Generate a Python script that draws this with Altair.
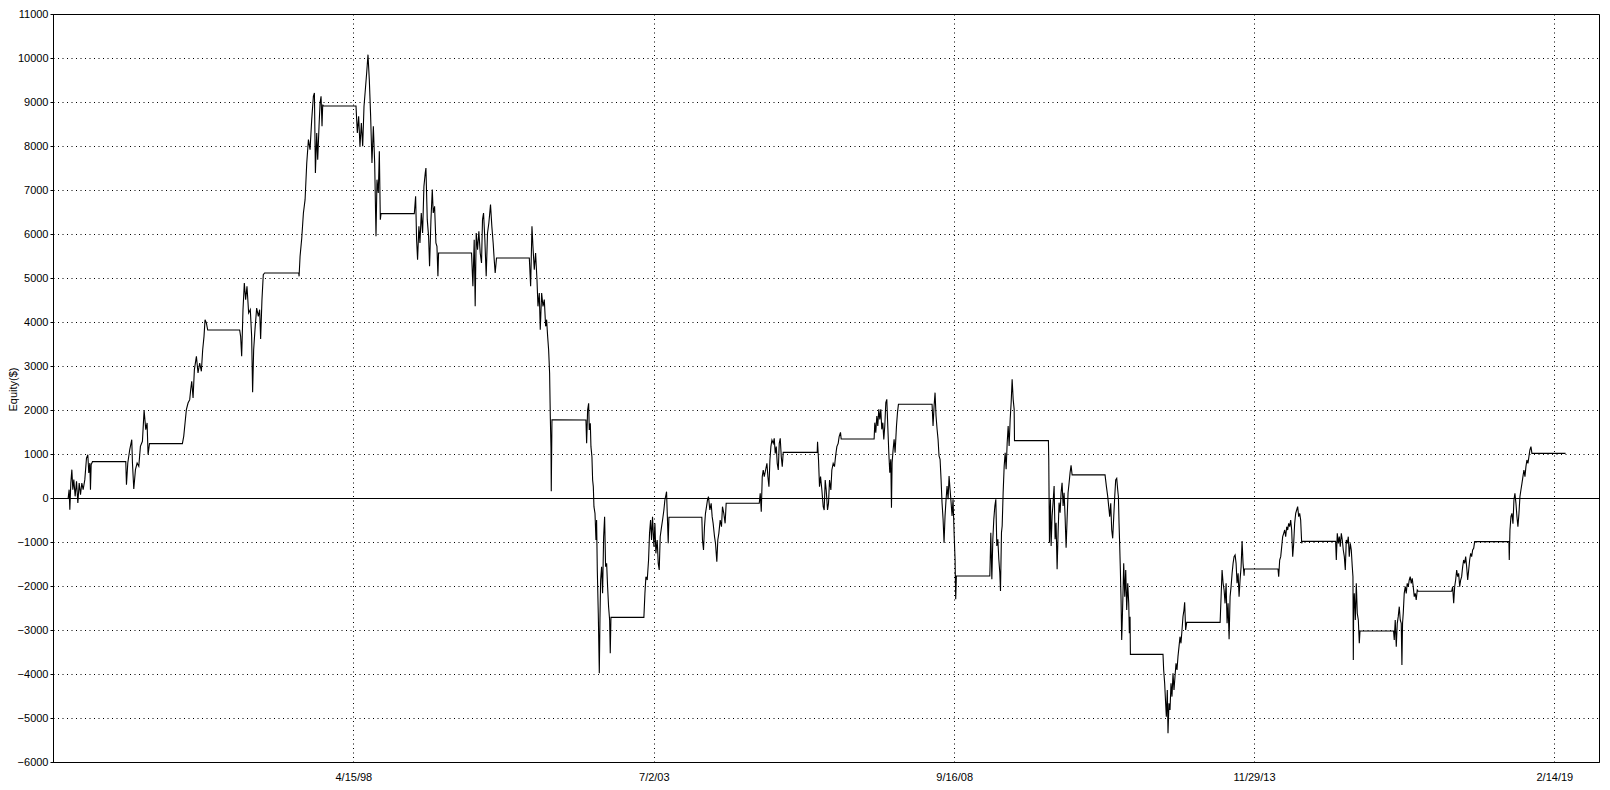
import altair as alt
import pandas as pd

# ---- data (decimal year, equity $) ----
t_1993_1996 = [1993.337, 1993.354, 1993.366, 1993.383, 1993.401, 1993.418, 1993.435, 1993.458, 1993.482, 1993.505,
               1993.528, 1993.551, 1993.574, 1993.597, 1993.626, 1993.655, 1993.678, 1993.695, 1993.713, 1993.724,
               1993.736, 1993.759,
               1994.337, 1994.349, 1994.372, 1994.406, 1994.441, 1994.453, 1994.476, 1994.505, 1994.534, 1994.563,
               1994.591, 1994.626, 1994.655, 1994.684, 1994.707, 1994.724, 1994.748,
               1995.320, 1995.343, 1995.366, 1995.389, 1995.418, 1995.447, 1995.464, 1995.482, 1995.505, 1995.528,
               1995.563, 1995.591, 1995.620, 1995.649, 1995.672, 1995.695, 1995.713, 1995.736, 1995.759,
               1996.314, 1996.331, 1996.349, 1996.372, 1996.395, 1996.418, 1996.441, 1996.470, 1996.499, 1996.522,
               1996.539, 1996.557, 1996.580, 1996.609, 1996.638, 1996.661, 1996.678, 1996.701, 1996.724, 1996.747]
eq_1993_1996 = [0, 189, -265, 341, 644, 189, 417, 38, 379, -114,
                341, 76, 341, 189, 417, 909, 985, 568, 795, 189,
                758, 826,
                826, 303, 795, 1098, 1326, 795, 205, 644, 795, 720,
                1174, 1288, 1992, 1553, 1705, 985, 1235,
                1235, 1402, 1705, 2008, 2159, 2235, 2462, 2652, 2273, 2917,
                3220, 2841, 3068, 2879, 3371, 3674, 4053, 3977, 3818,
                3818, 3674, 3220, 4280, 4886, 4508, 4811, 4205, 4280, 3674,
                2402, 3371, 3826, 4318, 4129, 4280, 3614, 4508, 5076, 5114]

t_1997_2001 = [1997.337, 1997.343, 1997.360, 1997.389, 1997.418, 1997.447, 1997.476, 1997.505, 1997.533, 1997.562,
               1997.591, 1997.609, 1997.626, 1997.649, 1997.666, 1997.689, 1997.707, 1997.724, 1997.741, 1997.753,
               1997.765,
               1998.331, 1998.354, 1998.377, 1998.400, 1998.424, 1998.447, 1998.470, 1998.493, 1998.516, 1998.539,
               1998.562, 1998.585, 1998.608, 1998.632, 1998.655, 1998.678, 1998.695, 1998.718, 1998.736, 1998.753,
               1998.765,
               1999.343, 1999.366, 1999.383, 1999.400, 1999.423, 1999.441, 1999.464, 1999.487, 1999.510, 1999.533,
               1999.545, 1999.568, 1999.591, 1999.608, 1999.632, 1999.655, 1999.672, 1999.695, 1999.718, 1999.736,
               1999.753, 1999.764,
               2000.337, 2000.360, 2000.383, 2000.400, 2000.418, 2000.441, 2000.464, 2000.487, 2000.510, 2000.527,
               2000.545, 2000.568, 2000.591, 2000.614, 2000.637, 2000.666, 2000.689, 2000.712, 2000.730, 2000.747,
               2000.770,
               2001.337, 2001.360, 2001.383, 2001.400, 2001.423, 2001.446, 2001.470, 2001.487, 2001.510, 2001.527,
               2001.551, 2001.574, 2001.597, 2001.620, 2001.637, 2001.655, 2001.672, 2001.689, 2001.701, 2001.713,
               2001.718, 2001.730, 2001.736]
eq_1997_2001 = [5114, 5038, 5492, 5902, 6477, 6780, 7614, 8144, 7917, 8599,
                9129, 9205, 7386, 8296, 7690, 8447, 8977, 9129, 8447, 8940,
                8909,
                8909, 8296, 8674, 7993, 8523, 7993, 8902, 9280, 9659, 10076,
                9508, 8674, 7614, 8447, 7614, 5947, 7235, 6932, 7879, 6326,
                6462,
                6462, 6856, 5871, 5417, 6174, 5796, 6477, 6023, 7083, 7386,
                7500, 6326, 5947, 5265, 6326, 7008, 6477, 6629, 5796, 5720,
                5038, 5568,
                5568, 4811, 5871, 4356, 6023, 5644, 6061, 5568, 5341, 6326,
                6477, 5871, 5038, 6023, 6250, 6667, 6174, 5796, 5417, 5114,
                5455,
                5455, 4811, 6174, 5720, 5189, 5568, 4962, 4356, 4659, 3826,
                4659, 4356, 4508, 3902, 4053, 3674, 3371, 2841, 1856, 1136,
                152, 1780, 1780]

t_2002_2006 = [2002.320, 2002.332, 2002.349, 2002.367, 2002.378, 2002.396, 2002.407, 2002.424, 2002.436, 2002.448,
               2002.459, 2002.477, 2002.494, 2002.505, 2002.517, 2002.534, 2002.552, 2002.563, 2002.575, 2002.592,
               2002.609, 2002.627, 2002.644, 2002.661, 2002.679, 2002.696, 2002.713, 2002.731, 2002.742, 2002.754,
               2003.326, 2003.344, 2003.361, 2003.384, 2003.407, 2003.424, 2003.442, 2003.459, 2003.476, 2003.500,
               2003.517, 2003.534, 2003.557, 2003.575, 2003.592, 2003.609, 2003.633, 2003.650, 2003.673, 2003.690,
               2003.708, 2003.719, 2003.737, 2003.748, 2003.760,
               2004.332, 2004.343, 2004.361, 2004.378, 2004.395, 2004.413, 2004.430, 2004.447, 2004.471, 2004.494,
               2004.511, 2004.528, 2004.552, 2004.569, 2004.592, 2004.609, 2004.627, 2004.650, 2004.673, 2004.690,
               2004.713, 2004.736, 2004.754,
               2005.326, 2005.343, 2005.361, 2005.378, 2005.395, 2005.413, 2005.436, 2005.459, 2005.476, 2005.494,
               2005.511, 2005.528, 2005.546, 2005.569, 2005.586, 2005.603, 2005.621, 2005.638, 2005.656, 2005.673,
               2005.690, 2005.708, 2005.725, 2005.742,
               2006.332, 2006.338, 2006.355, 2006.372, 2006.390, 2006.413, 2006.436, 2006.453, 2006.471, 2006.488,
               2006.511, 2006.528, 2006.546, 2006.569, 2006.586, 2006.609, 2006.632, 2006.650, 2006.673, 2006.696,
               2006.713, 2006.736, 2006.748]
eq_2002_2006 = [1773, 1242, 2000, 2152, 1545, 1697, 1167, 939, 409, 258,
                -197, -348, -955, -500, -1636, -2621, -3985, -2773, -1864, -1561,
                -2167, -879, -424, -1561, -1485, -2015, -2470, -2773, -3530, -2712,
                -2712, -2167, -1788, -1864, -1409, -803, -500, -955, -424, -1106,
                -576, -1258, -955, -1485, -1636, -879, -652, -500, -273, -45,
                68, 144, -576, -1030, -439,
                -439, -955, -1182, -652, -348, -197, -45, 30, -273, -121,
                -424, -576, -879, -1030, -1447, -955, -803, -500, -652, -197,
                -348, -576, -121,
                -121, 106, -311, 485, 636, 485, 636, 788, 485, 258,
                864, 1167, 1318, 1242, 1356, 1015, 1167, 788, 636, 1242,
                1356, 939, 712, 1038,
                1038, 1280, 864, 258, 485, 182, -197, -273, 409, 182,
                -273, -121, 409, 182, 636, 788, 712, 939, 1167, 1242,
                1394, 1492, 1340]

t_2007_2010 = [2007.320, 2007.332, 2007.349, 2007.367, 2007.384, 2007.401, 2007.419, 2007.436, 2007.453, 2007.471,
               2007.488, 2007.505, 2007.523, 2007.540, 2007.557, 2007.575, 2007.592, 2007.609, 2007.621, 2007.632,
               2007.650, 2007.667, 2007.684, 2007.708, 2007.725, 2007.742,
               2008.326, 2008.343, 2008.361, 2008.378, 2008.395, 2008.413, 2008.430, 2008.447, 2008.465, 2008.482,
               2008.499, 2008.517, 2008.534, 2008.551, 2008.569, 2008.586, 2008.604, 2008.621, 2008.638, 2008.656,
               2008.673, 2008.690, 2008.708, 2008.725, 2008.736, 2008.748,
               2009.326, 2009.343, 2009.361, 2009.378, 2009.395, 2009.413, 2009.430, 2009.447, 2009.465, 2009.482,
               2009.499, 2009.511, 2009.528, 2009.540, 2009.557, 2009.575, 2009.592, 2009.609, 2009.627, 2009.644,
               2009.661, 2009.679, 2009.696, 2009.713, 2009.731, 2009.748, 2009.754,
               2010.343, 2010.349, 2010.361, 2010.378, 2010.390, 2010.407, 2010.424, 2010.442, 2010.459, 2010.476,
               2010.494, 2010.511, 2010.528, 2010.546, 2010.563, 2010.580, 2010.598, 2010.615, 2010.632, 2010.650,
               2010.667, 2010.684, 2010.702, 2010.719, 2010.736, 2010.754]
eq_2007_2010 = [1340, 1712, 1485, 1864, 1636, 2015, 1788, 2015, 1561, 1712,
                1333, 1636, 2167, 2242, 1636, 1030, 576, 879, -220, 803,
                1106, 1333, 1030, 1636, 1939, 2129,
                2129, 1636, 2091, 2394, 1864, 1561, 1333, 955, 879, 424,
                -106, -485, -1015, -409, -30, 273, -30, 500, 197, -106,
                -409, -30, -788, -1394, -2303, -1773,
                -1773, -788, -1848, -939, -485, -182, -30, -1091, -939, -1394,
                -1697, -2114, -788, -636, 121, 727, 1030, 652, 1258, 1636,
                1182, 1788, 2167, 2697, 2242, 2015, 1303,
                1303, 879, -1015, -30, -1091, -409, -106, 273, -939, -561,
                -1621, -788, -106, -333, 121, 348, -182, 121, -409, -1129,
                -485, 121, 348, 576, 742, 525]

t_2011_2015 = [2011.326, 2011.350, 2011.373, 2011.390, 2011.407, 2011.425, 2011.442, 2011.459, 2011.477, 2011.494,
               2011.511, 2011.529, 2011.546, 2011.558, 2011.569, 2011.581, 2011.592, 2011.604, 2011.615, 2011.627,
               2011.639, 2011.650, 2011.668, 2011.685, 2011.702, 2011.720, 2011.737, 2011.748, 2011.760, 2011.766,
               2012.332, 2012.344, 2012.361, 2012.378, 2012.390, 2012.407, 2012.419, 2012.436, 2012.454, 2012.471,
               2012.488, 2012.506, 2012.523, 2012.540, 2012.558, 2012.575, 2012.592, 2012.610, 2012.627, 2012.644,
               2012.662, 2012.679, 2012.696, 2012.708, 2012.725, 2012.743,
               2013.321, 2013.338, 2013.355, 2013.373, 2013.390, 2013.407, 2013.425, 2013.442, 2013.459, 2013.477,
               2013.494, 2013.511, 2013.529, 2013.546, 2013.563, 2013.581, 2013.598, 2013.615, 2013.633, 2013.650,
               2013.667, 2013.685, 2013.702, 2013.719, 2013.737, 2013.743,
               2014.326, 2014.338, 2014.355, 2014.373, 2014.390, 2014.407, 2014.425, 2014.442, 2014.459, 2014.477,
               2014.494, 2014.511, 2014.529, 2014.546, 2014.563, 2014.581, 2014.598, 2014.615, 2014.633, 2014.650,
               2014.667, 2014.685, 2014.702, 2014.719, 2014.737, 2014.748,
               2015.326, 2015.338, 2015.355, 2015.373, 2015.390, 2015.407, 2015.425, 2015.442, 2015.459, 2015.477,
               2015.494, 2015.511, 2015.529, 2015.546, 2015.563, 2015.581, 2015.598, 2015.615, 2015.627, 2015.633,
               2015.639, 2015.650, 2015.668, 2015.685, 2015.702, 2015.720, 2015.737, 2015.749]
eq_2011_2015 = [525, 258, 30, -197, -424, -121, -727, -917, -424, 30,
                409, 447, 182, 30, -576, -1106, -1636, -2318, -3227, -2697,
                -2091, -1485, -2242, -1636, -2545, -1939, -2394, -3076, -2697, -3553,
                -3553, -3909, -4212, -4667, -4970, -4364, -5348, -4667, -4818, -4212,
                -4515, -3985, -4364, -4061, -3758, -3909, -3606, -3379, -3152, -3303,
                -3000, -2697, -2545, -2371, -3000, -2826,
                -2826, -2242, -1636, -1939, -2091, -2394, -1939, -2848, -2394, -3212,
                -2242, -2015, -1712, -1485, -1333, -1295, -1485, -1939, -1712, -2242,
                -1864, -1561, -977, -1485, -1765, -1614,
                -1614, -1788, -1409, -1333, -1106, -879, -803, -727, -879, -652,
                -727, -576, -652, -500, -727, -1333, -1030, -576, -348, -273,
                -197, -424, -348, -500, -1030, -985,
                -985, -1409, -803, -1030, -879, -1106, -803, -955, -1182, -1333,
                -1636, -955, -1030, -879, -1333, -1030, -1182, -1561, -1788, -3682,
                -2545, -2167, -2773, -1939, -2621, -2773, -3303, -3023]

t_2016_2019 = [2016.332, 2016.344, 2016.361, 2016.379, 2016.396, 2016.413, 2016.431, 2016.448, 2016.465, 2016.477,
               2016.488, 2016.500, 2016.517, 2016.535, 2016.552, 2016.569, 2016.587, 2016.604, 2016.621, 2016.639,
               2016.656, 2016.673, 2016.691, 2016.708, 2016.725, 2016.743, 2016.760,
               2017.338, 2017.355, 2017.373, 2017.390, 2017.407, 2017.425, 2017.442, 2017.459, 2017.477, 2017.494,
               2017.511, 2017.529, 2017.546, 2017.564, 2017.581, 2017.598, 2017.616, 2017.633, 2017.650, 2017.668,
               2017.685, 2017.702, 2017.720, 2017.737,
               2018.332, 2018.338, 2018.350, 2018.367, 2018.384, 2018.402, 2018.419, 2018.436, 2018.454, 2018.471,
               2018.488, 2018.506, 2018.523, 2018.540, 2018.558, 2018.575, 2018.592, 2018.610, 2018.627, 2018.644,
               2018.662, 2018.679, 2018.696, 2018.714, 2018.731, 2018.748, 2019.315]
eq_2016_2019 = [-3023, -3227, -2773, -3379, -2848, -2697, -2470, -2773, -2848, -3795,
                -2848, -2621, -2167, -2015, -2167, -1939, -2015, -1864, -1788, -1939,
                -1826, -2015, -2242, -2167, -2318, -2091, -2121,
                -2121, -2015, -2394, -2015, -1864, -1636, -1788, -1712, -2015, -1864,
                -1788, -1561, -1409, -1485, -1333, -1561, -1864, -1636, -1409, -1258,
                -1333, -1182, -1144, -992,
                -992, -1409, -727, -424, -348, -583, -45, 106, -121, -424,
                -652, -348, 30, 182, 333, 485, 636, 485, 712, 864,
                788, 939, 1091, 1167, 1015, 1015, 1015]

y_tick_values = [-6000, -5500, -5000, -4500, -4000, -3500, -3000, -2500, -2000, -1500, -1000, -500, 0,
                 500, 1000, 1500, 2000, 2500, 3000, 3500, 4000, 4500, 5000, 5500, 6000, 6500, 7000,
                 7500, 8000, 8500, 9000, 9500, 10000, 10500, 11000]
x_tick_dates = [(1998, 4, 15), (2003, 7, 2), (2008, 9, 16), (2013, 11, 29), (2019, 2, 14)]
x_domain = [(1993, 1, 28), (2019, 11, 24)]

years = t_1993_1996 + t_1997_2001 + t_2002_2006 + t_2007_2010 + t_2011_2015 + t_2016_2019
equity = eq_1993_1996 + eq_1997_2001 + eq_2002_2006 + eq_2007_2010 + eq_2011_2015 + eq_2016_2019


def to_date(y):
    yr = int(y)
    return pd.Timestamp(year=yr, month=1, day=1) + pd.Timedelta(days=(y - yr) * 365.25)


df = pd.DataFrame({"date": [to_date(y) for y in years], "equity": equity, "order": list(range(len(years)))})

FONT = "Liberation Sans"
DOTS = [1, 3.5]

x_enc = alt.X(
    "date:T",
    scale=alt.Scale(domain=[alt.DateTime(year=a, month=b, date=c) for a, b, c in x_domain]),
    axis=alt.Axis(
        values=[alt.DateTime(year=a, month=b, date=c) for a, b, c in x_tick_dates],
        format="%-m/%-d/%y",
        title=None,
        grid=True,
        gridColor="#000000",
        gridDash=DOTS,
        gridWidth=1,
        ticks=False,
        tickSize=0,
        labelPadding=9,
        labelOverlap=False,
        labelFlush=False,
        domainColor="#000000",
    ),
)

y_enc = alt.Y(
    "equity:Q",
    scale=alt.Scale(domain=[-6000, 11000], nice=False, zero=False),
    axis=alt.Axis(
        values=y_tick_values,
        labelExpr="datum.value % 1000 === 0 ? format(datum.value, 'd') : ''",
        title="Equity($)",
        titleFont=FONT,
        titleFontSize=11,
        titleFontWeight="normal",
        titleColor="#000000",
        titleX=-40,
        titleY=375,
        titleAngle=270,
        titleAlign="center",
        titleBaseline="middle",
        grid=True,
        gridColor="#000000",
        gridDash=DOTS,
        gridWidth=1,
        gridOpacity={"condition": {"test": "datum.value % 1000 === 0", "value": 1}, "value": 0},
        tickSize=3,
        tickColor="#000000",
        labelPadding=2,
        labelOverlap=False,
        labelFlush=False,
        domainColor="#000000",
    ),
)

zero_rule = alt.Chart(df).mark_rule(color="#000000", strokeWidth=1, yOffset=0.5).encode(y=alt.datum(0))

line = alt.Chart(df).mark_line(color="#000000", strokeWidth=1.1).encode(
    x=x_enc,
    y=y_enc,
    order="order:Q",
)

chart = (
    alt.layer(line, zero_rule)
    .properties(
        width=1546,
        height=748,
        padding={"left": 45, "top": 6, "right": 3, "bottom": 20},
        autosize=alt.AutoSizeParams(type="none"),
        background="#ffffff",
    )
    .configure_view(stroke="#000000", strokeWidth=1)
    .configure_axis(labelFont=FONT, labelFontSize=11, labelColor="#000000")
)

chart.save("out.html", embed_options={"renderer": "svg", "actions": False})
